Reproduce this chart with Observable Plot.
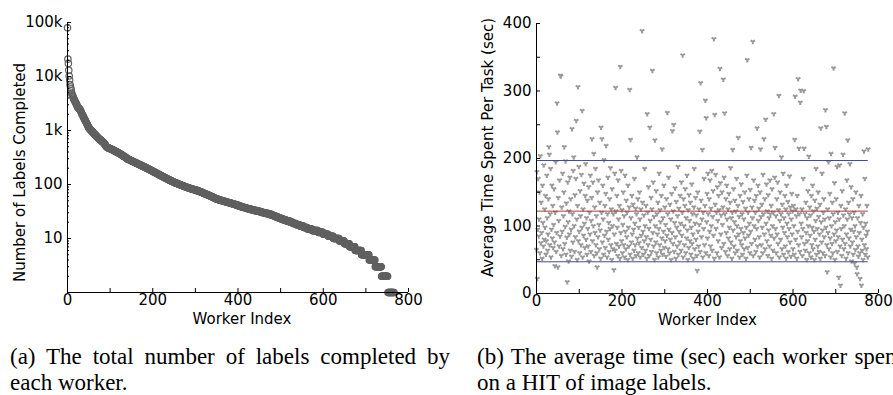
<!DOCTYPE html>
<html><head><meta charset="utf-8">
<script src="https://cdn.jsdelivr.net/npm/d3@7"></script>
<script src="https://cdn.jsdelivr.net/npm/@observablehq/plot@0.6"></script>
<style>
html,body{margin:0;padding:0;background:#fff;}
body{width:893px;height:395px;overflow:hidden;position:relative;}
#a{position:absolute;left:0;top:0;}
#b{position:absolute;left:440px;top:0;}
.cap{position:absolute;top:344px;font-family:"Liberation Serif","Times New Roman",Times,serif;font-size:23px;line-height:26px;text-align:justify;width:440px;color:#000;}
</style></head>
<body>
<div id="a"></div><div id="b"></div>
<div class="cap" style="left:10px">(a) The total number of labels completed by each worker.</div>
<div class="cap" style="left:477px">(b) The average time (sec) each worker spends on a HIT of image labels.</div>
<script>
// ---- data: (a) number of labels completed per worker (sorted) ----
const labelsCompleted = [
80000,21000,17500,13000,10200,8600,7100,6400,5900,5400,
4900,4600,4400,4200,4000,3800,3700,3550,3400,3300,
3200,3100,2950,2800,2700,2650,2600,2550,2500,2450,
2400,2300,2200,2100,2000,1950,1900,1820,1750,1680,
1620,1560,1510,1460,1410,1360,1310,1260,1210,1170,
1130,1100,1070,1050,1030,1010,990,970,950,935,
920,900,880,860,845,830,815,800,785,770,
755,740,725,710,700,690,680,670,660,650,
640,630,620,610,600,590,580,565,550,535,
520,505,495,488,482,478,474,470,467,465,
462,458,454,450,446,442,438,434,430,426,
422,418,414,410,406,402,398,394,390,386,
382,378,374,370,366,362,358,354,350,346,
342,338,334,330,326,322,318,314,310,305,
300,297,295,292,290,287,285,282,280,277,
275,273,270,268,266,263,261,259,257,254,
252,250,248,246,244,241,239,237,235,233,
231,229,227,225,223,221,219,218,216,214,
212,210,208,206,204,203,201,199,198,196,
194,192,190,188,186,185,183,181,179,178,
176,174,172,171,169,168,166,164,163,161,
160,158,157,155,154,152,151,149,148,146,
145,144,142,141,140,138,137,136,134,133,
132,131,129,128,127,126,125,124,122,121,
120,119,118,117,116,115,114,113,112,111,
110,109,108,107,107,106,105,104,104,103,
102,101,101,100,99,99,98,97,97,96,
95,95,94,93,93,92,91,91,90,89,
89,88,88,87,86,86,85,85,84,84,
83,83,82,82,82,81,81,80,80,80,
79,79,78,78,77,77,76,76,75,75,
74,74,73,73,72,72,71,70,70,69,
69,68,68,67,67,66,66,65,65,64,
64,63,63,62,62,61,61,60,60,59,
59,58,58,57,57,56,56,55,55,54,
54,54,53,53,53,52,52,52,51,51,
51,51,50,50,50,50,49,49,49,49,
48,48,48,48,47,47,47,47,46,46,
46,46,45,45,45,45,44,44,44,44,
43,43,43,43,42,42,42,42,41,41,
41,41,40,40,40,40,39,39,39,39,
38,38,38,38,38,37,37,37,37,37,
36,36,36,36,36,35,35,35,35,35,
35,34,34,34,34,34,34,33,33,33,
33,33,33,33,33,32,32,32,32,32,
32,32,31,31,31,31,31,31,30,30,
30,30,30,30,30,29,29,29,29,29,
29,29,29,28,28,28,28,28,28,27,
27,27,27,27,26,26,26,26,26,25,
25,25,25,25,25,24,24,24,24,24,
24,23,23,23,23,23,23,22,22,22,
22,22,22,22,21,21,21,21,21,21,
21,21,20,20,20,20,20,20,20,19,
19,19,19,19,19,19,19,18,18,18,
18,18,18,18,18,17,17,17,17,17,
17,17,17,17,16,16,16,16,16,16,
16,16,16,15,15,15,15,15,15,15,
15,15,15,15,14,14,14,14,14,14,
14,14,14,14,14,14,14,14,13,13,
13,13,13,13,13,13,13,13,13,13,
12,12,12,12,12,12,12,12,12,12,
12,12,11,11,11,11,11,11,11,11,
11,11,11,11,10,10,10,10,10,10,
10,10,10,10,10,10,10,10,9,9,
9,9,9,9,9,9,9,9,9,9,
8,8,8,8,8,8,8,8,8,8,
8,8,7,7,7,7,7,7,7,7,
7,7,7,7,7,6,6,6,6,6,
6,6,6,6,6,6,6,6,6,6,
5,5,5,5,5,5,5,5,5,5,
5,5,5,5,5,5,5,5,4,4,
4,4,4,4,4,4,4,4,4,4,
4,4,3,3,3,3,3,3,3,3,
3,3,3,3,3,3,3,2,2,2,
2,2,2,2,2,2,2,2,2,2,
2,2,1,1,1,1,1,1,1,1,
1,1,1,1,1,1,1
];

// ---- data: (b) average time (sec) per task, by worker index ----
const timePerTask = [
65,180,22,95,170,85,110,150,60,204,75,135,90,52,160,105,70,190,80,125,
98,145,58,78,175,112,64,88,140,217,206,72,118,185,54,95,160,82,130,68,
102,155,76,41,120,195,62,90,282,239,39,142,108,70,168,85,323,322,56,128,
92,178,66,115,150,217,74,99,196,58,134,83,17,165,106,48,122,88,172,64,
140,95,55,244,118,76,182,202,100,62,146,84,170,256,110,50,130,306,78,188,
92,60,152,115,72,176,98,271,54,125,86,163,104,68,145,192,80,112,58,138,
96,70,158,48,120,88,175,62,108,142,229,78,165,100,207,56,128,90,185,72,
115,60,39,150,84,168,102,66,135,94,52,246,120,229,76,160,110,58,198,86,
130,68,148,219,92,54,118,172,80,105,62,140,96,186,72,125,50,155,100,66,
118,35,88,178,64,305,122,74,145,98,56,168,110,70,130,52,336,90,182,78,
124,60,102,150,72,115,54,175,92,66,138,84,120,50,160,98,70,128,302,58,
228,112,76,145,88,52,132,95,64,170,104,72,126,56,118,202,82,140,60,98,
75,150,110,54,125,86,68,389,135,92,58,116,78,185,100,64,130,84,52,266,
120,72,158,96,56,246,108,80,142,62,125,330,90,165,70,114,50,227,100,76,
152,60,118,88,135,54,96,178,72,124,106,64,145,82,214,58,112,92,160,68,
128,78,102,55,140,86,268,118,66,172,95,60,132,80,110,50,148,90,241,74,
122,250,62,105,156,84,52,136,98,70,115,188,58,126,92,76,145,104,64,165,
86,120,353,54,140,100,72,130,155,60,112,82,175,94,50,124,68,146,108,78,
135,58,98,162,74,118,88,52,128,185,66,104,142,80,116,56,34,150,92,70,
125,102,240,62,312,138,84,110,213,54,120,96,170,72,130,286,60,260,106,148,
82,178,118,56,140,92,168,70,126,100,182,64,114,152,86,377,52,265,132,176,
96,120,60,158,108,78,145,124,54,333,164,88,116,68,150,102,128,317,74,172,
267,118,62,140,90,160,110,56,125,82,148,98,66,135,186,76,112,52,120,213,
94,155,70,106,138,60,122,84,170,100,64,130,231,88,114,54,145,78,96,162,
72,118,58,136,90,110,66,150,82,126,52,98,175,346,68,120,86,140,104,60,
154,92,216,74,128,112,373,56,168,100,138,80,120,62,145,96,245,70,160,108,
126,84,54,150,214,114,72,132,98,60,176,118,229,88,140,66,258,104,162,78,
122,56,146,94,112,70,168,118,86,130,52,155,100,64,120,266,82,172,216,96,
115,60,140,88,165,74,124,293,54,108,150,80,118,202,66,132,98,178,58,112,
90,145,70,125,52,160,104,84,136,62,118,96,174,76,128,55,110,148,88,122,
66,130,100,58,228,292,80,125,115,52,145,92,318,72,215,118,62,283,301,104,
84,125,56,96,170,300,215,74,118,64,135,90,50,112,78,152,100,203,60,128,
86,116,54,145,72,98,160,66,122,92,50,138,80,108,185,58,126,96,70,150,
114,62,88,132,52,245,106,76,178,94,60,120,140,84,110,56,272,98,247,72,
32,125,90,195,66,112,148,82,54,207,100,74,135,60,118,334,88,164,50,106,
78,140,94,188,62,120,84,24,110,190,70,12,130,96,56,152,80,206,116,66,
100,267,74,125,52,88,168,110,227,60,135,82,118,192,70,95,158,48,112,76,
140,58,92,120,45,100,65,150,84,39,29,112,70,55,130,90,60,22,105,145,
12,80,64,118,50,98,211,72,170,58,104,86,66,130,92,54,214
];

// ---- axis ticks & reference lines ----
const workerTicks = [0, 200, 400, 600, 800];
const workerMinorTicks = [100, 300, 500, 700];
const countTicks = [10, 100, 1000, 10000, 100000];
const countMinorTicks = [2,3,4,5,6,7,8,9,20,30,40,50,60,70,80,90,200,300,400,500,600,700,800,900,2000,3000,4000,5000,6000,7000,8000,9000,20000,30000,40000,50000,60000,70000,80000,90000];
const timeTicks = [0, 100, 200, 300, 400];
const timeMinorTicks = [50, 150, 250, 350];
const meanTime = [122];
const stdBandTimes = [47, 197];

const FONT = "DejaVu Sans";
const fmtCount = d => d >= 1000 ? (d / 1000) + "k" : String(d);
const baseStyle = {fontFamily: FONT, fontSize: "15px", color: "#000", background: "transparent", overflow: "visible"};

const left = Plot.plot({
  width: 440, height: 332,
  marginLeft: 67, marginRight: 32, marginTop: 22, marginBottom: 40,
  style: baseStyle,
  x: {domain: [0, 800]},
  y: {type: "log", domain: [1, 100000]},
  marks: [
    Plot.dot(labelsCompleted, {x: (d, i) => i, y: d => d, r: 3.2, stroke: "#606060", strokeWidth: 1.2, fill: "none"}),
    Plot.ruleX([0], {stroke: "#000"}),
    Plot.ruleY([1], {stroke: "#000"}),
    Plot.axisX(workerTicks, {tickSize: -4, tickPadding: 6, tickFormat: d => String(d), label: null, fontSize: 15}),
    Plot.axisX(workerMinorTicks, {tickSize: -4, tickFormat: () => "", label: null}),
    Plot.axisY(countTicks, {tickSize: -4, tickPadding: 9, tickFormat: fmtCount, label: null, fontSize: 15}),
    Plot.axisY(countMinorTicks, {tickSize: -2, tickFormat: () => "", label: null}),
    Plot.text(["Worker Index"], {frameAnchor: "bottom", dy: 31, dx: 4, fontSize: 15, fill: "#000", textAnchor: "middle"}),
    Plot.text(["Number of Labels Completed"], {frameAnchor: "left", dx: -47, dy: 15, rotate: -90, fontSize: 15, fill: "#000", textAnchor: "middle"})
  ]
});
document.getElementById("a").append(left);

const right = Plot.plot({
  width: 453, height: 332,
  marginLeft: 96, marginRight: 15, marginTop: 23, marginBottom: 39,
  style: baseStyle,
  x: {domain: [0, 800]},
  y: {domain: [0, 400]},
  marks: [
    Plot.dot(timePerTask, {x: (d, i) => i, y: d => d, symbol: "wye", r: 2.1, fill: "#9a9a9a", stroke: "none"}),
    Plot.ruleY(stdBandTimes, {y: d => d, x1: 0, x2: timePerTask.length - 1, stroke: "#47479c", strokeWidth: 1}),
    Plot.ruleY(meanTime, {y: d => d, x1: 0, x2: timePerTask.length - 1, stroke: "#b03a3a", strokeWidth: 1}),
    Plot.ruleX([0], {stroke: "#000"}),
    Plot.ruleY([0], {stroke: "#000"}),
    Plot.axisX(workerTicks, {tickSize: -4, tickPadding: 6, tickFormat: d => String(d), label: null, fontSize: 15}),
    Plot.axisX(workerMinorTicks, {tickSize: -4, tickFormat: () => "", label: null}),
    Plot.axisY(timeTicks, {tickSize: -4, tickPadding: 9, tickFormat: d => String(d), label: null, fontSize: 15}),
    Plot.axisY(timeMinorTicks, {tickSize: -4, tickFormat: () => "", label: null}),
    Plot.text(["Worker Index"], {frameAnchor: "bottom", dy: 31, dx: 0, fontSize: 15, fill: "#000", textAnchor: "middle"}),
    Plot.text(["Average Time Spent Per Task (sec)"], {frameAnchor: "left", dx: -48, dy: -11, rotate: -90, fontSize: 15, fill: "#000", textAnchor: "middle"})
  ]
});
document.getElementById("b").append(right);
</script>
</body></html>
